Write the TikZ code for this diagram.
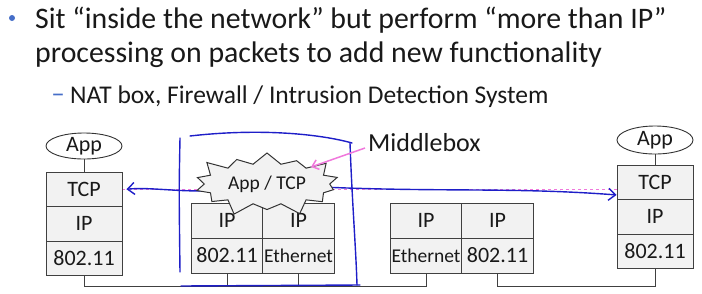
\documentclass[tikz,border=0pt]{standalone}
\usepackage{fontspec}
\setmainfont{Carlito}
\usetikzlibrary{arrows.meta,shapes,positioning,backgrounds}
\definecolor{pen}{RGB}{30,30,200}
\definecolor{rosa}{RGB}{240,120,220}
\definecolor{bala}{RGB}{70,110,200}
\definecolor{tinta}{RGB}{25,25,25}

\begin{document}
\begin{tikzpicture}[x=1pt,y=-1pt,
      ly/.style={draw=black!75,fill=black!5,line width=0.9pt,inner sep=0pt,
                 minimum width=76pt,minimum height=34.5pt,text=tinta,
                 font=\fontsize{22}{22}\selectfont},
      cell/.style={ly,minimum width=71.5pt,minimum height=35pt},
      app/.style={draw=black!80,fill=white,ellipse,line width=0.9pt,inner sep=0pt,
                  minimum width=76pt,minimum height=26pt,text=tinta,
                  font=\fontsize{22}{22}\selectfont},
      txt/.style={anchor=base west,inner sep=0pt,text=tinta},
      wire/.style={draw=black!75,line width=1pt},
      ink/.style={draw=pen,line width=1.4pt,line cap=round},
      barb/.style={-{Straight Barb[length=7pt,width=12pt]}}]
      \useasboundingbox (0,0) rectangle (702,293);
      % Heading
      \fill[bala] (12,18) circle (3pt);
      \node[txt,font=\fontsize{29.8}{29.8}\selectfont] (line1) at (35,28) {Sit “inside the network” but perform “more than IP”};
      \node[txt,font=\fontsize{29.8}{29.8}\selectfont] (line2) at (35,62) {processing on packets to add new functionality};
      \node[inner sep=0pt,text=bala,font=\fontsize{27}{27}\selectfont] (dash) at (58,98) {–};
      \node[txt,font=\fontsize{25.5}{25.5}\selectfont] (line3) at (70,103) {NAT box, Firewall / Intrusion Detection System};
      % Left host
      \node[app] (appL) at (84,146) {App};
      \node[ly] (tcpL) at (84,189.25) {TCP};
      \node[ly] (ipL) at (84,223.75) {IP};
      \node[ly] (macL) at (84,258.25) {802.11};
      % Middlebox
      \node[cell] (ipMa) at (227,220.5) {IP};
      \node[cell] (ipMb) at (298.5,220.5) {IP};
      \node[cell] (macMa) at (227,255.5) {802.11};
      \node[cell,font=\fontsize{19.5}{19.5}\selectfont] (macMb) at (298.5,255.5) {Ethernet};
      % Router
      \node[cell] (ipRa) at (426,220.5) {IP};
      \node[cell] (ipRb) at (497.5,220.5) {IP};
      \node[cell,font=\fontsize{19.5}{19.5}\selectfont] (macRa) at (426,255.5) {Ethernet};
      \node[cell] (macRb) at (497.5,255.5) {802.11};
      % Right host
      \node[app,minimum height=28pt] (appR) at (655,140) {App};
      \node[ly] (tcpR) at (655,182.25) {TCP};
      \node[ly] (ipR) at (655,216.75) {IP};
      \node[ly] (macR) at (655,251.25) {802.11};
      % Starburst
      \node[starburst,starburst points=14,starburst point height=15pt,
            inner xsep=5.5pt,inner ysep=6pt,draw=black!80,fill=black!5,
            line width=1pt,text=tinta,font=\fontsize{19.5}{19.5}\selectfont] (burst) at (267,184) {App / TCP};
      \node[txt,anchor=west,font=\fontsize{26}{26}\selectfont] (mbox) at (368,143) {Middlebox};
      \coordinate (hit) at (311,167);
      % Wires
      \draw[wire] (appL) -- (tcpL);
      \draw[wire] (appR) -- (tcpR);
      \path (macL.south) ++(0,10.5) coordinate (bus);
      \draw[wire] (macL.south) -- (bus) -| (macRa.south);
      \draw[wire] (macMa.south) -- (macMa.south |- bus);
      \draw[wire] (macMb.south) -- (macMb.south |- bus);
      \draw[wire] (macRb.south) -- (macRb.south |- bus) -| (macR.south);
      % Pen strokes
      \begin{pgfonlayer}{background}
        \draw[rosa,dashed,line width=1pt] (tcpL.east) -- (tcpL.east -| tcpR.west);
        \draw[ink,barb] (burst.center) .. controls (200,198) and (160,186) .. ([xshift=4pt]tcpL.east);
        \draw[ink,barb] (burst.center) .. controls (420,194) and (500,186) .. ([yshift=5pt]tcpR.south west);
      \end{pgfonlayer}
      \draw[ink] (180,138) .. controls (179,190) .. (180,272);
      \draw[ink] (190,136) .. controls (260,128) and (320,134) .. (352,143);
      \draw[ink] (350,143) .. controls (352,200) and (356,250) .. (357,285);
      \draw[ink] (181,286) -- (360,285);
      \draw[rosa,line width=1.5pt,-{Straight Barb[length=6pt,width=10pt]}] ([xshift=-3pt,yshift=-5pt]mbox.west) -- (hit);
    \end{tikzpicture}
\end{document}
